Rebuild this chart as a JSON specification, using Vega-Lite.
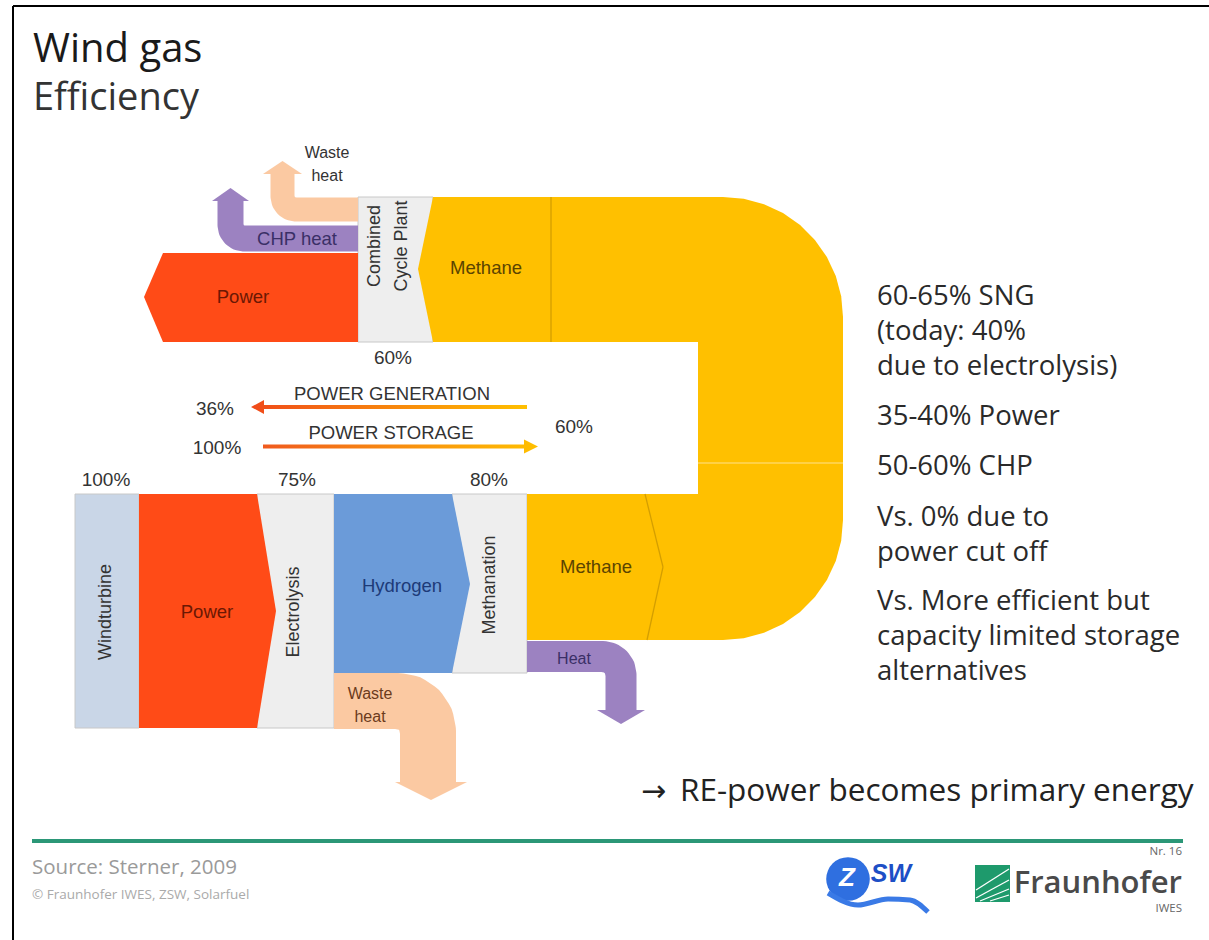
{
 "$schema": "https://vega.github.io/schema/vega-lite/v6.json",
 "width": 1209, "height": 940, "autosize": "none", "padding": 0,
 "background": "#ffffff",
 "config": {"view": {"stroke": null}},
 "datasets": {
  "rects": [
   {"k":"wind","x":75,"x2":139,"y":494,"y2":728},
   {"k":"grey","x":257,"x2":334,"y":494,"y2":728},
   {"k":"grey","x":452,"x2":527,"y":494,"y2":673},
   {"k":"grey","x":358,"x2":433,"y":197,"y2":342}
  ],
  "areas": [
   {"id":"p2","k":"red","x":139,"y":494,"y2":728},
   {"id":"p2","k":"red","x":257,"y":494,"y2":728},
   {"id":"p2","k":"red","x":276,"y":611,"y2":611},
   {"id":"h","k":"blue","x":334,"y":494,"y2":673},
   {"id":"h","k":"blue","x":452,"y":494,"y2":673},
   {"id":"h","k":"blue","x":470,"y":584,"y2":584},
   {"id":"m1","k":"yellow","x":418,"y":269,"y2":269},
   {"id":"m1","k":"yellow","x":433,"y":197,"y2":342},
   {"id":"m1","k":"yellow","x":552,"y":197,"y2":342},
   {"id":"p1","k":"red","x":144,"y":297,"y2":297},
   {"id":"p1","k":"red","x":163,"y":253,"y2":342},
   {"id":"p1","k":"red","x":358,"y":253,"y2":342},
   {"id":"u","k":"yellow","x":548,"y":197,"y2":640},
   {"id":"u","k":"yellow","x":723,"y":197,"y2":640},
   {"id":"u","k":"yellow","x":743.8,"y":198.8,"y2":638.2},
   {"id":"u","k":"yellow","x":764.0,"y":204.2,"y2":632.8},
   {"id":"u","k":"yellow","x":783.0,"y":213.1,"y2":623.9},
   {"id":"u","k":"yellow","x":800.1,"y":225.1,"y2":611.9},
   {"id":"u","k":"yellow","x":814.9,"y":239.9,"y2":597.1},
   {"id":"u","k":"yellow","x":826.9,"y":257.0,"y2":580.0},
   {"id":"u","k":"yellow","x":835.8,"y":276.0,"y2":561.0},
   {"id":"u","k":"yellow","x":841.2,"y":296.2,"y2":540.8},
   {"id":"u","k":"yellow","x":843,"y":317,"y2":520},
   {"id":"a1","k":"purple","x":212,"y":201,"y2":201},
   {"id":"a1","k":"purple","x":230.5,"y":188,"y2":201},
   {"id":"a1","k":"purple","x":249,"y":201,"y2":201},
   {"id":"a2","k":"peach","x":263,"y":174,"y2":174},
   {"id":"a2","k":"peach","x":282.5,"y":161,"y2":174},
   {"id":"a2","k":"peach","x":302,"y":174,"y2":174},
   {"id":"a3","k":"purple","x":597,"y":710,"y2":710},
   {"id":"a3","k":"purple","x":621,"y":710,"y2":724},
   {"id":"a3","k":"purple","x":645,"y":710,"y2":710},
   {"id":"a4","k":"peach","x":395,"y":782,"y2":782},
   {"id":"a4","k":"peach","x":431,"y":782,"y2":800},
   {"id":"a4","k":"peach","x":467,"y":782,"y2":782}
  ],
  "rects2": [
   {"k":"white","x":548,"x2":698,"y":342,"y2":494},
   {"k":"yellow","x":527,"x2":560,"y":494,"y2":640},
   {"k":"fgreen","x":975,"x2":1010,"y":865,"y2":902}
  ],
  "bends": [
   {"id":"chp","k":"purple","i":0,"x":358,"y":238.5},
   {"id":"chp","k":"purple","i":1,"x":244,"y":238.5},
   {"id":"chp","k":"purple","i":2,"x":238.8,"y":237.5},
   {"id":"chp","k":"purple","i":3,"x":234.5,"y":234.5},
   {"id":"chp","k":"purple","i":4,"x":231.5,"y":230.2},
   {"id":"chp","k":"purple","i":5,"x":230.5,"y":225},
   {"id":"chp","k":"purple","i":6,"x":230.5,"y":200},
   {"id":"wt","k":"peach","i":0,"x":358,"y":209.5},
   {"id":"wt","k":"peach","i":1,"x":295.5,"y":209.5},
   {"id":"wt","k":"peach","i":2,"x":290.5,"y":208.5},
   {"id":"wt","k":"peach","i":3,"x":286.3,"y":205.7},
   {"id":"wt","k":"peach","i":4,"x":283.5,"y":201.5},
   {"id":"wt","k":"peach","i":5,"x":282.5,"y":196.5},
   {"id":"wt","k":"peach","i":6,"x":282.5,"y":173},
   {"id":"heat","k":"purple","i":0,"x":527,"y":656.5},
   {"id":"heat","k":"purple","i":1,"x":603,"y":656.5},
   {"id":"heat","k":"purple","i":2,"x":609.9,"y":657.9},
   {"id":"heat","k":"purple","i":3,"x":615.7,"y":661.8},
   {"id":"heat","k":"purple","i":4,"x":619.6,"y":667.6},
   {"id":"heat","k":"purple","i":5,"x":621,"y":674.5},
   {"id":"heat","k":"purple","i":6,"x":621,"y":711},
   {"id":"wb","k":"peach","i":0,"x":334,"y":701},
   {"id":"wb","k":"peach","i":1,"x":398,"y":701},
   {"id":"wb","k":"peach","i":2,"x":409.5,"y":703.3},
   {"id":"wb","k":"peach","i":3,"x":419.2,"y":709.8},
   {"id":"wb","k":"peach","i":4,"x":425.7,"y":719.5},
   {"id":"wb","k":"peach","i":5,"x":428,"y":731},
   {"id":"wb","k":"peach","i":6,"x":428,"y":783},
   {"id":"zw","k":"zblue","i":0,"x":828,"y":893},
   {"id":"zw","k":"zblue","i":1,"x":858,"y":905},
   {"id":"zw","k":"zblue","i":2,"x":888,"y":899},
   {"id":"zw","k":"zblue","i":3,"x":910,"y":900},
   {"id":"zw","k":"zblue","i":4,"x":928,"y":912}
  ],
  "rules": [
   {"k":"ydark","x":551,"y":197,"x2":551,"y2":342},
   {"k":"ydark","x":645,"y":494,"x2":663,"y2":567},
   {"k":"ydark","x":663,"y":567,"x2":647,"y2":640},
   {"k":"yseam","x":698,"y":463,"x2":843,"y2":463},
   {"k":"white","x":976,"y":898,"x2":1009,"y2":880},
   {"k":"white","x":980,"y":901,"x2":1009,"y2":889},
   {"k":"white","x":976,"y":890,"x2":1009,"y2":869},
   {"k":"white","x":990,"y":901,"x2":1009,"y2":895}
  ],
  "lab17": [
   {"t":"Power","k":"txtred","x":243,"y":297},
   {"t":"CHP heat","k":"txtpurple","x":297,"y":239},
   {"t":"Methane","k":"txtbrown","x":486,"y":268},
   {"t":"Power","k":"txtred","x":207,"y":612},
   {"t":"Hydrogen","k":"txtblue","x":402,"y":586},
   {"t":"Methane","k":"txtbrown","x":596,"y":567}
  ],
  "lab15": [
   {"t":"Waste","k":"txt","x":327,"y":153},
   {"t":"heat","k":"txt","x":327,"y":176},
   {"t":"Heat","k":"txtpurple","x":574,"y":659},
   {"t":"Waste","k":"txtpeach","x":370,"y":694},
   {"t":"heat","k":"txtpeach","x":370,"y":717}
  ],
  "rot": [
   {"t":"Windturbine","x":106,"y":612},
   {"t":"Electrolysis","x":294,"y":612},
   {"t":"Methanation","x":490,"y":585},
   {"t":"Combined","x":375,"y":246},
   {"t":"Cycle Plant","x":402,"y":246}
  ],
  "pct": [
   {"t":"60%","x":393,"y":358},
   {"t":"36%","x":215,"y":409},
   {"t":"100%","x":217,"y":448},
   {"t":"60%","x":574,"y":427},
   {"t":"100%","x":106,"y":480},
   {"t":"75%","x":297,"y":480},
   {"t":"80%","x":489,"y":480}
  ],
  "caps": [
   {"t":"POWER GENERATION","x":392,"y":394},
   {"t":"POWER STORAGE","x":391,"y":433}
  ],
  "right": [
   {"t":"60-65% SNG","x":877,"y":297},
   {"t":"(today: 40%","x":877,"y":332},
   {"t":"due to electrolysis)","x":877,"y":367},
   {"t":"35-40% Power","x":877,"y":417},
   {"t":"50-60% CHP","x":877,"y":467},
   {"t":"Vs. 0% due to","x":877,"y":518},
   {"t":"power cut off","x":877,"y":553},
   {"t":"Vs. More efficient but","x":877,"y":602},
   {"t":"capacity limited storage","x":877,"y":637},
   {"t":"alternatives","x":877,"y":672}
  ]
 },
 "encoding": {
  "x": {"field":"x","type":"quantitative","scale":{"domain":[0,1209],"nice":false,"zero":false},"axis":null},
  "y": {"field":"y","type":"quantitative","scale":{"domain":[0,940],"reverse":true,"nice":false,"zero":false},"axis":null,"stack":null}
 },
 "layer": [
  {"data":{"name":"rects"},"mark":{"type":"rect","stroke":"#c8c8c8","strokeWidth":1,"opacity":1},
   "encoding":{"x2":{"field":"x2"},"y2":{"field":"y2"},
    "color":{"field":"k","type":"nominal","legend":null,"scale":{"domain":["wind","grey","red","blue","yellow","white","purple","peach","ydark","yseam","fgreen","zblue","txtred","txtbrown","txtblue","txtpurple","txtpeach","txt"],"range":["#c9d6e7","#eeeeee","#ff4b17","#6b9bd9","#ffc000","#ffffff","#9c82c1","#fbc9a2","#d49e00","#ffd75e","#1e9a6c","#2a66d8","#6b1804","#5b4400","#1d3a78","#3a2f66","#6b3b1c","#333333"]}}}},
  {"data":{"name":"areas"},"mark":{"type":"area","orient":"vertical","opacity":1},
   "encoding":{"y2":{"field":"y2"},"detail":{"field":"id"},
    "color":{"field":"k","type":"nominal","legend":null,"scale":{"domain":["wind","grey","red","blue","yellow","white","purple","peach","ydark","yseam","fgreen","zblue","txtred","txtbrown","txtblue","txtpurple","txtpeach","txt"],"range":["#c9d6e7","#eeeeee","#ff4b17","#6b9bd9","#ffc000","#ffffff","#9c82c1","#fbc9a2","#d49e00","#ffd75e","#1e9a6c","#2a66d8","#6b1804","#5b4400","#1d3a78","#3a2f66","#6b3b1c","#333333"]}}}},
  {"data":{"name":"rects2"},"mark":{"type":"rect","opacity":1},
   "encoding":{"x2":{"field":"x2"},"y2":{"field":"y2"},
    "color":{"field":"k","type":"nominal","legend":null,"scale":{"domain":["wind","grey","red","blue","yellow","white","purple","peach","ydark","yseam","fgreen","zblue","txtred","txtbrown","txtblue","txtpurple","txtpeach","txt"],"range":["#c9d6e7","#eeeeee","#ff4b17","#6b9bd9","#ffc000","#ffffff","#9c82c1","#fbc9a2","#d49e00","#ffd75e","#1e9a6c","#2a66d8","#6b1804","#5b4400","#1d3a78","#3a2f66","#6b3b1c","#333333"]}}}},
  {"data":{"name":"bends"},"transform":[{"filter":"datum.id === 'chp'"}],"mark":{"type":"line","strokeWidth":26,"opacity":1,"strokeCap":"butt","strokeJoin":"round","color":"#9c82c1"},
   "encoding":{"order":{"field":"i","type":"quantitative"}}},
  {"data":{"name":"bends"},"transform":[{"filter":"datum.id === 'wt'"}],"mark":{"type":"line","strokeWidth":24,"opacity":1,"strokeCap":"butt","strokeJoin":"round","color":"#fbc9a2"},
   "encoding":{"order":{"field":"i","type":"quantitative"}}},
  {"data":{"name":"bends"},"transform":[{"filter":"datum.id === 'heat'"}],"mark":{"type":"line","strokeWidth":31,"opacity":1,"strokeCap":"butt","strokeJoin":"round","color":"#9c82c1"},
   "encoding":{"order":{"field":"i","type":"quantitative"}}},
  {"data":{"name":"bends"},"transform":[{"filter":"datum.id === 'wb'"}],"mark":{"type":"line","strokeWidth":56,"opacity":1,"strokeCap":"butt","strokeJoin":"round","color":"#fbc9a2"},
   "encoding":{"order":{"field":"i","type":"quantitative"}}},
  {"data":{"values":[{"x":251,"y":407,"y2":407},{"x":264,"y":400,"y2":414},{"x":264.01,"y":405,"y2":409},{"x":527,"y":405,"y2":409}]},
   "mark":{"type":"area","orient":"vertical","opacity":1,"color":{"gradient":"linear","x1":0,"y1":0,"x2":1,"y2":0,"stops":[{"offset":0,"color":"#f04a1a"},{"offset":1,"color":"#ffc000"}]}},
   "encoding":{"y2":{"field":"y2"}}},
  {"data":{"values":[{"x":263,"y":444.5,"y2":448.5},{"x":524,"y":444.5,"y2":448.5},{"x":524.01,"y":439.5,"y2":453.5},{"x":538,"y":446.5,"y2":446.5}]},
   "mark":{"type":"area","orient":"vertical","opacity":1,"color":{"gradient":"linear","x1":0,"y1":0,"x2":1,"y2":0,"stops":[{"offset":0,"color":"#f05a1e"},{"offset":1,"color":"#ffc000"}]}},
   "encoding":{"y2":{"field":"y2"}}},
  {"data":{"name":"rules"},"mark":{"type":"rule","strokeWidth":1.3,"opacity":1},
   "encoding":{"x2":{"field":"x2"},"y2":{"field":"y2"},
    "color":{"field":"k","type":"nominal","legend":null,"scale":{"domain":["wind","grey","red","blue","yellow","white","purple","peach","ydark","yseam","fgreen","zblue","txtred","txtbrown","txtblue","txtpurple","txtpeach","txt"],"range":["#c9d6e7","#eeeeee","#ff4b17","#6b9bd9","#ffc000","#ffffff","#9c82c1","#fbc9a2","#d49e00","#ffd75e","#1e9a6c","#2a66d8","#6b1804","#5b4400","#1d3a78","#3a2f66","#6b3b1c","#333333"]}}}},
  {"data":{"values":[{"x":13,"y":6,"x2":1209,"y2":6},{"x":13,"y":6,"x2":13,"y2":940}]},"mark":{"type":"rule","strokeWidth":2,"color":"#000000","opacity":1},
   "encoding":{"x2":{"field":"x2"},"y2":{"field":"y2"}}},
  {"data":{"values":[{"x":32,"y":841,"x2":1183,"y2":841}]},"mark":{"type":"rule","strokeWidth":4,"color":"#2b9777","opacity":1},
   "encoding":{"x2":{"field":"x2"},"y2":{"field":"y2"}}},
  {"data":{"values":[{"x":848,"y":879}]},"mark":{"type":"point","shape":"circle","filled":true,"size":1900,"color":"#2f6fe0","opacity":1}},
  {"data":{"name":"bends"},"transform":[{"filter":"datum.id === 'zw'"}],"mark":{"type":"line","strokeWidth":5,"opacity":1,"interpolate":"monotone","color":"#3a7ae6"},
   "encoding":{"order":{"field":"i","type":"quantitative"}}},
  {"data":{"values":[{"t":"Z","x":847,"y":878}]},"mark":{"type":"text","font":"Liberation Sans","fontSize":26,"fontWeight":"bold","fontStyle":"italic","color":"#ffffff","align":"center","baseline":"middle"},"encoding":{"text":{"field":"t"}}},
  {"data":{"values":[{"t":"SW","x":891,"y":874}]},"mark":{"type":"text","font":"Liberation Sans","fontSize":25,"fontWeight":"bold","fontStyle":"italic","color":"#1d4fc6","align":"center","baseline":"middle"},"encoding":{"text":{"field":"t"}}},
  {"data":{"name":"lab17"},"mark":{"type":"text","font":"Liberation Sans","fontSize":18.5,"align":"center","baseline":"middle"},
   "encoding":{"text":{"field":"t"},
    "color":{"field":"k","type":"nominal","legend":null,"scale":{"domain":["wind","grey","red","blue","yellow","white","purple","peach","ydark","yseam","fgreen","zblue","txtred","txtbrown","txtblue","txtpurple","txtpeach","txt"],"range":["#c9d6e7","#eeeeee","#ff4b17","#6b9bd9","#ffc000","#ffffff","#9c82c1","#fbc9a2","#d49e00","#ffd75e","#1e9a6c","#2a66d8","#6b1804","#5b4400","#1d3a78","#3a2f66","#6b3b1c","#333333"]}}}},
  {"data":{"name":"lab15"},"mark":{"type":"text","font":"Liberation Sans","fontSize":16,"align":"center","baseline":"middle"},
   "encoding":{"text":{"field":"t"},
    "color":{"field":"k","type":"nominal","legend":null,"scale":{"domain":["wind","grey","red","blue","yellow","white","purple","peach","ydark","yseam","fgreen","zblue","txtred","txtbrown","txtblue","txtpurple","txtpeach","txt"],"range":["#c9d6e7","#eeeeee","#ff4b17","#6b9bd9","#ffc000","#ffffff","#9c82c1","#fbc9a2","#d49e00","#ffd75e","#1e9a6c","#2a66d8","#6b1804","#5b4400","#1d3a78","#3a2f66","#6b3b1c","#333333"]}}}},
  {"data":{"name":"rot"},"mark":{"type":"text","font":"Liberation Sans","fontSize":18,"angle":270,"align":"center","baseline":"middle","color":"#333333"},
   "encoding":{"text":{"field":"t"}}},
  {"data":{"name":"pct"},"mark":{"type":"text","font":"Liberation Sans","fontSize":19,"align":"center","baseline":"middle","color":"#333333"},
   "encoding":{"text":{"field":"t"}}},
  {"data":{"name":"caps"},"mark":{"type":"text","font":"Liberation Sans","fontSize":18.5,"align":"center","baseline":"middle","color":"#333333"},
   "encoding":{"text":{"field":"t"}}},
  {"data":{"values":[{"t":"Wind gas","x":33,"y":62}]},"mark":{"type":"text","font":"Open Sans","fontSize":40,"align":"left","baseline":"alphabetic","color":"#1a1a1a"},"encoding":{"text":{"field":"t"}}},
  {"data":{"values":[{"t":"Efficiency","x":33,"y":110}]},"mark":{"type":"text","font":"Open Sans","fontSize":38,"align":"left","baseline":"alphabetic","color":"#333333"},"encoding":{"text":{"field":"t"}}},
  {"data":{"name":"right"},"mark":{"type":"text","font":"Open Sans","fontSize":27.5,"align":"left","baseline":"middle","color":"#2a2a2a"},"encoding":{"text":{"field":"t"}}},
  {"data":{"values":[{"t":"→","x":641,"y":792}]},"mark":{"type":"text","font":"DejaVu Sans","fontSize":30,"align":"left","baseline":"middle","color":"#222222"},"encoding":{"text":{"field":"t"}}},
  {"data":{"values":[{"t":"RE-power becomes primary energy","x":680,"y":792}]},"mark":{"type":"text","font":"Open Sans","fontSize":31.5,"align":"left","baseline":"middle","color":"#222222"},"encoding":{"text":{"field":"t"}}},
  {"data":{"values":[{"t":"Source: Sterner,  2009","x":32,"y":868}]},"mark":{"type":"text","font":"Open Sans","fontSize":20.5,"align":"left","baseline":"middle","color":"#9a9a9a"},"encoding":{"text":{"field":"t"}}},
  {"data":{"values":[{"t":"© Fraunhofer IWES, ZSW, Solarfuel","x":32,"y":895}]},"mark":{"type":"text","font":"Open Sans","fontSize":13.5,"align":"left","baseline":"middle","color":"#aaaaaa"},"encoding":{"text":{"field":"t"}}},
  {"data":{"values":[{"t":"Nr. 16","x":1182,"y":852},{"t":"IWES","x":1182,"y":909}]},"mark":{"type":"text","font":"Open Sans","fontSize":11.5,"align":"right","baseline":"middle","color":"#666666"},"encoding":{"text":{"field":"t"}}},
  {"data":{"values":[{"t":"Fraunhofer","x":1182,"y":884}]},"mark":{"type":"text","font":"Open Sans","fontSize":31,"fontWeight":600,"align":"right","baseline":"middle","color":"#4a4a4a"},"encoding":{"text":{"field":"t"}}}
 ]
}
